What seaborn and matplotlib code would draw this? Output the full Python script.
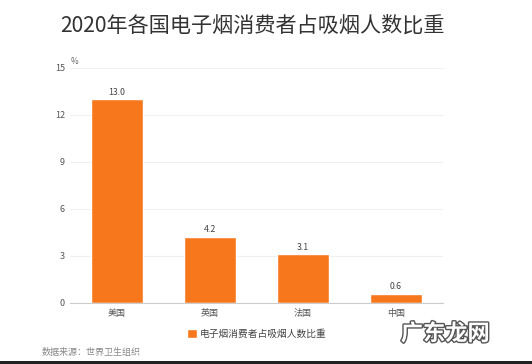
import matplotlib
matplotlib.use("Agg")
import matplotlib.pyplot as plt
import matplotlib.patheffects as pe
from matplotlib.patches import Rectangle
import seaborn as sns
import pandas as pd

categories = ["美国", "英国", "法国", "中国"]
values = [13.0, 4.2, 3.1, 0.6]
yticks = [0, 3, 6, 9, 12, 15]
series_name = "电子烟消费者占吸烟人数比重"
title = "2020年各国电子烟消费者占吸烟人数比重"
source = "数据来源：世界卫生组织"

sns.set_style("white")
plt.rcParams['font.family'] = ['Noto Sans CJK SC', 'DejaVu Sans']

df = pd.DataFrame({"国家": categories, "比重": values})
color = "#F7781C"

fig = plt.figure(figsize=(5.32, 3.64), dpi=100)
ax = fig.add_axes([0.1325, 0.1676, 0.6995, 0.6456])
sns.barplot(data=df, x="国家", y="比重", color=color, width=0.56, ax=ax,
            saturation=1, label=series_name)
ax.set_xlim(-0.5, 3.5)
ax.set_ylim(0, 15)
ax.set_yticks(yticks)
ax.set_yticklabels([str(t) for t in yticks])
ax.yaxis.grid(True, color="#f0f0f0", linewidth=0.8)
ax.set_axisbelow(True)
for s in ["top", "right", "left"]:
    ax.spines[s].set_visible(False)
ax.spines["bottom"].set_color("#cccccc")
ax.spines["bottom"].set_linewidth(0.8)
ax.tick_params(axis="both", length=0, colors="#555555", labelsize=6.5, pad=4)
ax.set_xlabel("")
ax.set_ylabel("")
for c in ax.containers:
    ax.bar_label(c, labels=[f"{v:.1f}" for v in values], fontsize=6.3, color="#444444", padding=2)

ax.text(0.0, 1.01, "%", transform=ax.transAxes, fontsize=6, color="#666666", ha="left", va="bottom")

fig.text(0.475, 0.93, title, ha="center", va="center", fontsize=15.2, color="#333333")

leg = ax.legend(loc="center", bbox_to_anchor=(0.5, -0.13), frameon=False, fontsize=7,
                handlelength=1.0, handleheight=1.0, handletextpad=0.3, labelcolor="#444444")

fig.text(0.079, 0.033, source, ha="left", va="center", fontsize=6.5, color="#888888")
fig.text(0.837, 0.083, "广东龙网", ha="center", va="center", fontsize=16, color="white",
         fontweight="bold", path_effects=[pe.withStroke(linewidth=2, foreground="#555555")])
fig.patches.append(Rectangle((0, 0), 1, 0.009, transform=fig.transFigure,
                             facecolor="#222222", edgecolor="none"))

fig.savefig("out.png", dpi=100)
